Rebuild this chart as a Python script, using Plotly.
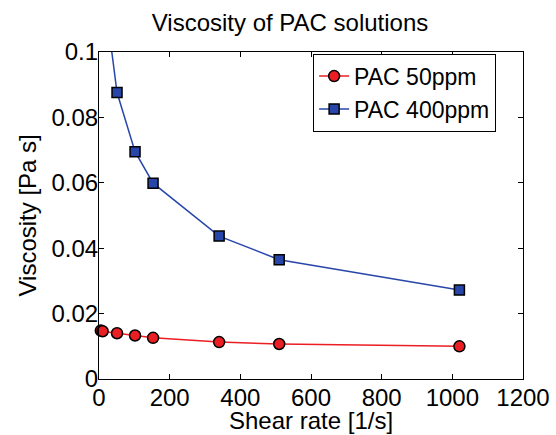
import plotly.graph_objects as go

shear_50 = [5.1, 10.2, 51, 102, 153, 340, 510, 1020]
visc_50 = [0.0148, 0.0146, 0.0140, 0.0133, 0.0126, 0.0113, 0.0107, 0.0100]

shear_400 = [5.1, 10.2, 51, 102, 153, 340, 510, 1020]
visc_400 = [0.15, 0.122, 0.0876, 0.0695, 0.0599, 0.0437, 0.0365, 0.0272]

x_ticks = [0, 200, 400, 600, 800, 1000, 1200]
y_ticks = [0, 0.02, 0.04, 0.06, 0.08, 0.1]
y_tick_text = ["0", "0.02", "0.04", "0.06", "0.08", "0.1"]

font_family = "Liberation Sans, Arial, sans-serif"
FS = 24
W, H = 556, 435

fig = go.Figure()
fig.add_trace(go.Scatter(
    x=shear_50, y=visc_50, name="PAC 50ppm", mode="lines+markers",
    line=dict(color="rgb(235,30,35)", width=1.5),
    marker=dict(symbol="circle", size=11, color="rgb(235,30,35)",
                line=dict(color="black", width=1.5)),
    cliponaxis=False,
))
fig.add_trace(go.Scatter(
    x=shear_400, y=visc_400, name="PAC 400ppm", mode="lines+markers",
    line=dict(color="rgb(40,70,170)", width=1.5),
    marker=dict(symbol="square", size=10, color="rgb(40,70,170)",
                line=dict(color="black", width=1.5)),
    cliponaxis=True,
))

axis_common = dict(
    showline=True, linecolor="black", linewidth=1.2, mirror="ticks",
    ticks="inside", ticklen=5, tickcolor="black", tickwidth=1,
    showgrid=False, zeroline=False, automargin=False,
    tickfont=dict(family=font_family, size=FS, color="black"),
)

fig.update_layout(
    width=W, height=H,
    margin=dict(l=99, r=33, t=52, b=56),
    paper_bgcolor="white", plot_bgcolor="white",
    title=dict(text="Viscosity of PAC solutions", x=290/W, xref="container",
               xanchor="center", y=1 - 23/H, yref="container", yanchor="middle",
               font=dict(family=font_family, size=24, color="black")),
    font=dict(family=font_family, color="black"),
    legend=dict(x=0.505, y=0.995, xanchor="left", yanchor="top",
                bordercolor="black", borderwidth=1, bgcolor="white",
                font=dict(family=font_family, size=23, color="black"),
                tracegroupgap=0, itemwidth=30),
    xaxis=dict(range=[0, 1200], tickvals=x_ticks, ticklabelstandoff=-3,
               **axis_common),
    yaxis=dict(range=[0, 0.1], tickvals=y_ticks, ticktext=y_tick_text,
               ticklabelstandoff=-5,
               **axis_common),
    annotations=[
        dict(text="Shear rate [1/s]", xref="paper", yref="paper",
             x=0.5, y=-(420 - 379) / (379 - 52), xanchor="center", yanchor="middle",
             showarrow=False, font=dict(family=font_family, size=24, color="black")),
        dict(text="Viscosity [Pa s]", xref="paper", yref="paper",
             x=-(99 - 27) / (523 - 99), y=0.5, xanchor="center", yanchor="middle",
             textangle=-90, showarrow=False,
             font=dict(family=font_family, size=24, color="black")),
    ],
)

fig.write_html("out.html", config={"displayModeBar": False},
               post_script="document.body.style.margin='0';")
